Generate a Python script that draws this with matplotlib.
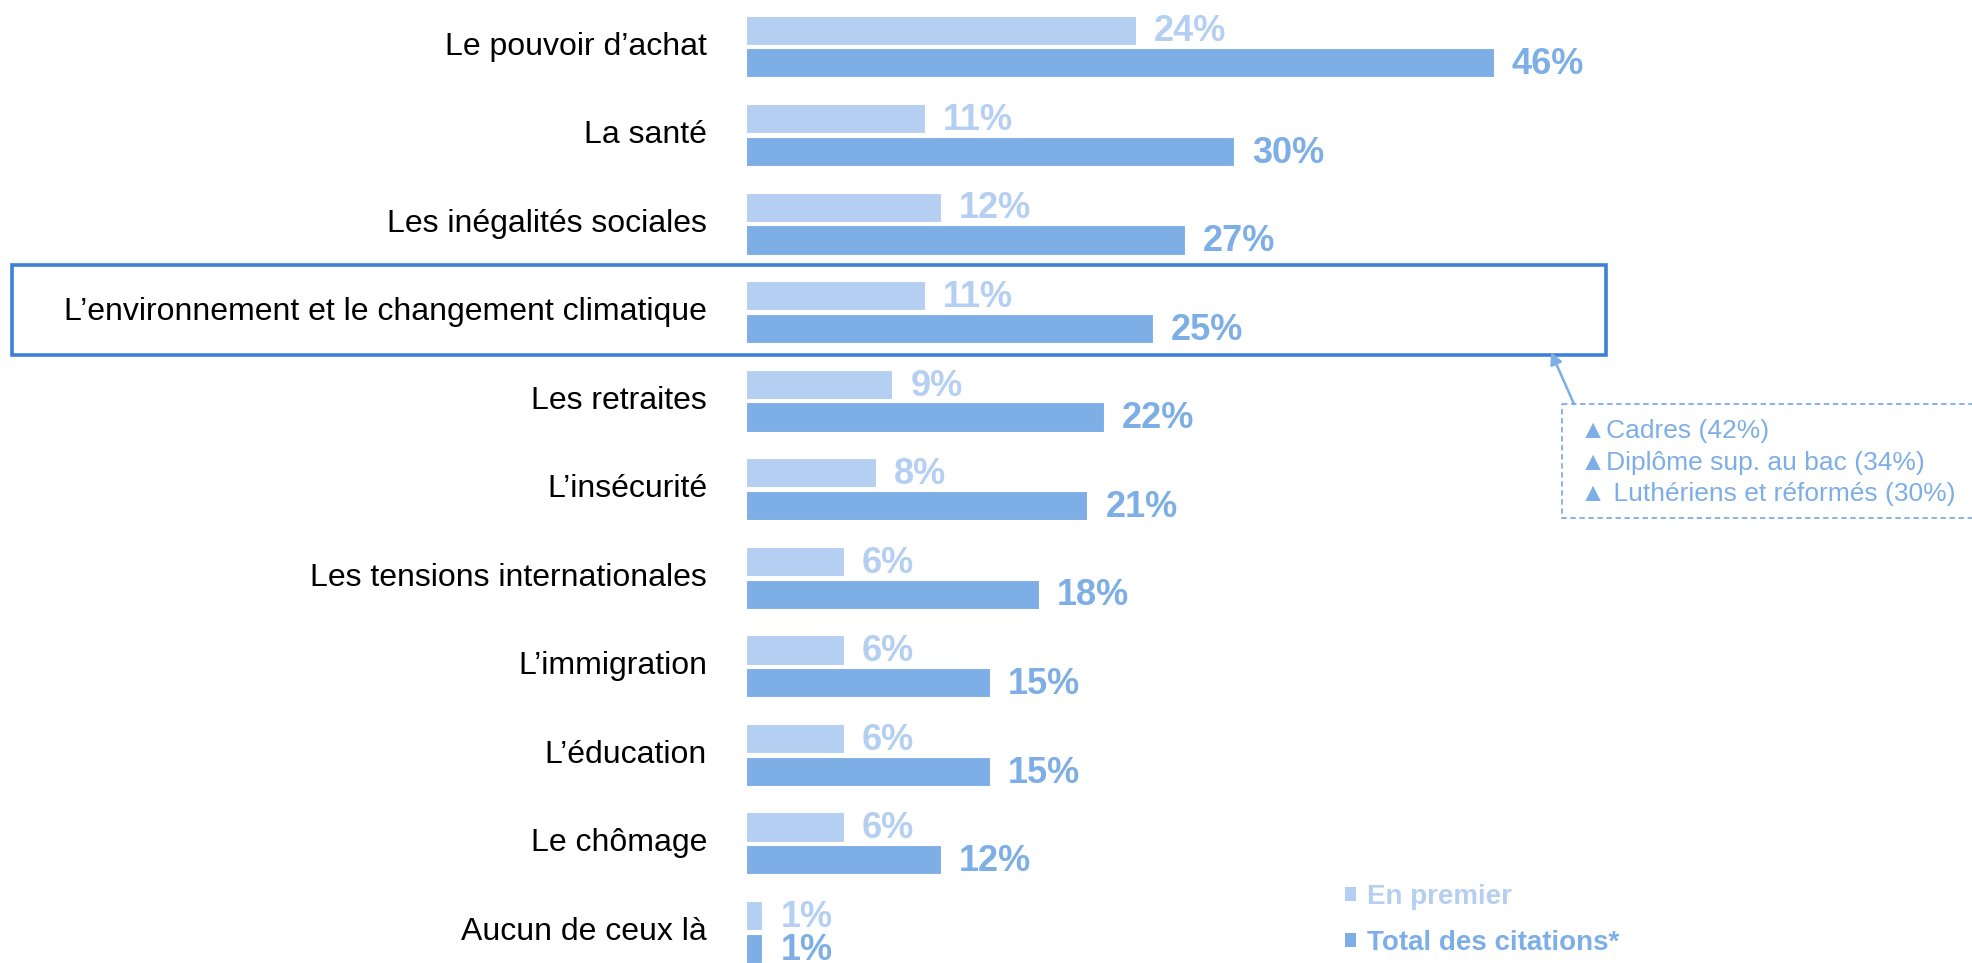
import matplotlib
matplotlib.use("Agg")
import matplotlib.pyplot as plt
from matplotlib.patches import Rectangle, Patch

plt.rcParams["font.family"] = ["Liberation Sans", "DejaVu Sans"]

# données
categories = [
    "Le pouvoir d\u2019achat",
    "La santé",
    "Les inégalités sociales",
    "L\u2019environnement et le changement climatique",
    "Les retraites",
    "L\u2019insécurité",
    "Les tensions internationales",
    "L\u2019immigration",
    "L\u2019éducation",
    "Le chômage",
    "Aucun de ceux là",
]
en_premier = [24, 11, 12, 11, 9, 8, 6, 6, 6, 6, 1]
total_citations = [46, 30, 27, 25, 22, 21, 18, 15, 15, 12, 1]
series_names = ["En premier", "Total des citations*"]
callout_lines = [
    "\u25b2Cadres (42%)",
    "\u25b2Diplôme sup. au bac (34%)",
    "\u25b2 Luthériens et réformés (30%)",
]

LIGHT = "#B4CFF1"
DARK = "#7DAEE6"
BOX = "#3C80D8"

W, H = 1972, 963
X0, PX_PER_PCT = 746, 16.26
Y0, ROW = 46.5, 88.55


def px2d(x, y):
    # pixel (haut-gauche) -> coordonnées données
    return (x - X0) / PX_PER_PCT, (y - Y0) / ROW


fig = plt.figure(figsize=(W / 100, H / 100), dpi=100)
ax = fig.add_axes([0, 0, 1, 1])
ax.set_xlim(px2d(0, 0)[0], px2d(W, 0)[0])
ax.set_ylim(px2d(0, H)[1], px2d(0, 0)[1])
ax.axis("off")

ypos = list(range(len(categories)))
off, bh = 0.185, 0.33
ax.barh([y - off for y in ypos], en_premier, height=bh, color=LIGHT, edgecolor="white", linewidth=0.8)
ax.barh([y + off for y in ypos], total_citations, height=bh, color=DARK, edgecolor="white", linewidth=0.8)

gap = 18 / PX_PER_PCT
for y, v in zip(ypos, en_premier):
    ax.text(v + gap, y - off + 0.02, f"{v}%", color=LIGHT, fontsize=26, fontweight="bold", va="center", ha="left")
for y, v in zip(ypos, total_citations):
    ax.text(v + gap, y + off + 0.02, f"{v}%", color=DARK, fontsize=26, fontweight="bold", va="center", ha="left")

lab_x = px2d(707, 0)[0]
for y, c in zip(ypos, categories):
    ax.text(lab_x, y, c, fontsize=23, color="black", va="center", ha="right")

# encadré de la ligne mise en avant
bx0, by0 = px2d(12, 265)
bx1, by1 = px2d(1606, 355)
ax.add_patch(Rectangle((bx0, by0), bx1 - bx0, by1 - by0, fill=False, edgecolor=BOX, linewidth=2.6, clip_on=False))

# bulle de commentaire
cx0, cy0 = px2d(1562, 404)
cx1, cy1 = px2d(1990, 518)
ax.add_patch(Rectangle((cx0, cy0), cx1 - cx0, cy1 - cy0, fill=False, edgecolor=DARK,
                       linewidth=1.3, linestyle=(0, (3, 2)), clip_on=False))
ax.annotate("", xy=px2d(1551, 352), xytext=px2d(1574, 404),
            arrowprops=dict(arrowstyle="-|>", color=DARK, lw=1.8, mutation_scale=18, shrinkA=0, shrinkB=0))
for i, t in enumerate(callout_lines):
    tx, ty = px2d(1580, 431 + i * 31.5)
    ax.text(tx, ty, t, fontsize=19, color=DARK, va="center", ha="left")

# légende
handles = [Patch(facecolor=LIGHT), Patch(facecolor=DARK)]
leg = fig.legend(handles, series_names, loc="upper left", bbox_to_anchor=(1345 / W, 1 - 884 / H),
                 frameon=False, prop={"size": 20, "weight": "bold"},
                 handlelength=0.38, handleheight=0.38, handletextpad=0.4, labelspacing=0.72,
                 borderpad=0, borderaxespad=0)
for txt, col in zip(leg.get_texts(), [LIGHT, DARK]):
    txt.set_color(col)

fig.savefig("out.png", dpi=100)
